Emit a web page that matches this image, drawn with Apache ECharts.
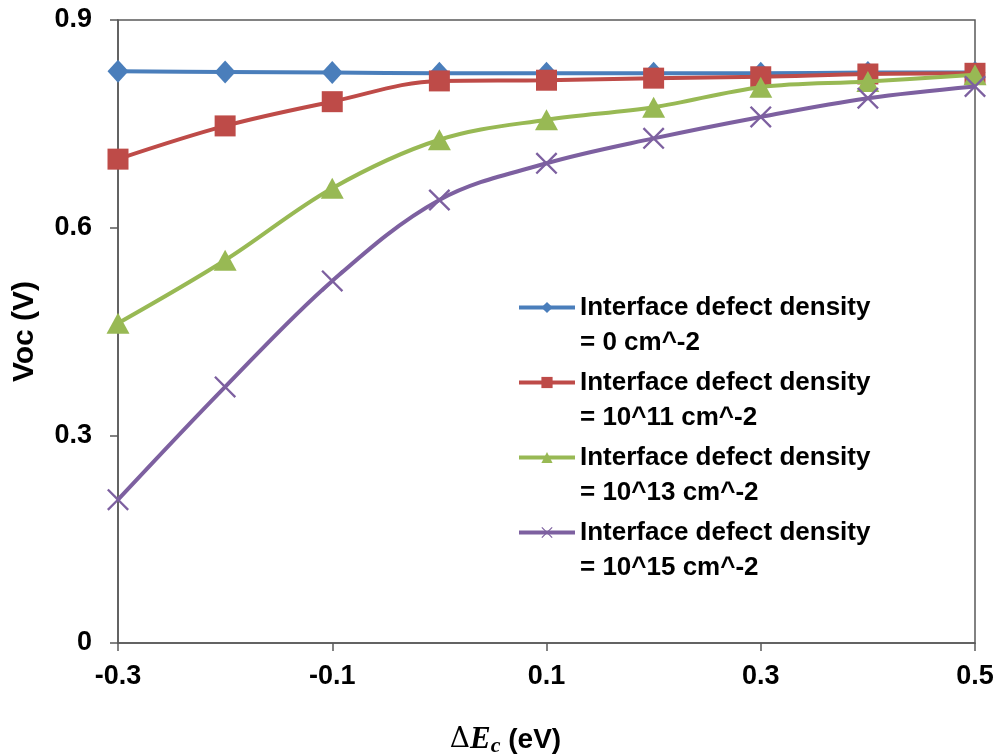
<!DOCTYPE html>
<html>
<head>
<meta charset="utf-8">
<script src="https://cdn.jsdelivr.net/npm/echarts@6/dist/echarts.min.js"></script>
<style>html,body{margin:0;padding:0;background:#fff;}#c{width:1003px;height:754px;}</style>
</head>
<body>
<div id="c"></div>
<script>
var xValues = [-0.3, -0.2, -0.1, 0.0, 0.1, 0.2, 0.3, 0.4, 0.5];
var seriesNames = [
  'Interface defect density\n= 0 cm^-2',
  'Interface defect density\n= 10^11 cm^-2',
  'Interface defect density\n= 10^13 cm^-2',
  'Interface defect density\n= 10^15 cm^-2'
];
var voc0  = [0.826, 0.825, 0.824, 0.823, 0.823, 0.823, 0.823, 0.824, 0.824];
var voc11 = [0.699, 0.747, 0.782, 0.812, 0.813, 0.816, 0.818, 0.822, 0.823];
var voc13 = [0.462, 0.553, 0.657, 0.727, 0.756, 0.774, 0.803, 0.811, 0.821];
var voc15 = [0.207, 0.370, 0.523, 0.640, 0.693, 0.729, 0.760, 0.787, 0.804];
var yTicks = [0, 0.3, 0.6, 0.9];
var xTicks = [-0.3, -0.1, 0.1, 0.3, 0.5];

var colors = ['#4A7EBB', '#BE4B48', '#98B954', '#7D60A0'];
var crossPath = 'path://M0,1.5L1.5,0L10,8.5L18.5,0L20,1.5L11.5,10L20,18.5L18.5,20L10,11.5L1.5,20L0,18.5L8.5,10Z';
var symbols = ['diamond', 'rect', 'triangle', crossPath];
var sizes = [[21, 23], 21, [23, 21], 22];
var datasets = [voc0, voc11, voc13, voc15];
var font = "'Liberation Sans', Arial, sans-serif";

function pairs(ys) { return xValues.map(function (x, i) { return [x, ys[i]]; }); }

var chart = echarts.init(document.getElementById('c'), null, { renderer: 'canvas' });
chart.setOption({
  animation: false,
  backgroundColor: '#fff',
  color: colors,
  grid: { left: 118, right: 28, top: 20, bottom: 111, containLabel: false, outerBoundsMode: 'none',
          show: true, borderColor: '#595959', borderWidth: 1.5 },
  legend: {
    orient: 'vertical', left: 517, top: 255, padding: 0, itemGap: -30,
    itemWidth: 56, itemHeight: 14,
    lineStyle: { width: 4 },
    formatter: function (name) { return '\n' + name; },
    textStyle: { fontFamily: font, fontWeight: 'bold', fontSize: 26, color: '#000', lineHeight: 35 },
    data: seriesNames
  },
  xAxis: {
    type: 'value', min: -0.3, max: 0.5, interval: 0.2,
    axisLine: { show: true, onZero: false, lineStyle: { color: '#595959', width: 1.5 } },
    axisTick: { show: true, inside: false, length: 8, lineStyle: { color: '#595959', width: 1.5 } },
    splitLine: { show: false },
    axisLabel: { margin: 20, fontFamily: font, fontWeight: 'bold', fontSize: 27, color: '#000',
      formatter: function (v) { var r = Math.round(v * 10) / 10; return xTicks.indexOf(r) >= 0 ? r.toFixed(1) : ''; } },
    name: '{d|Δ}{e|E}{c|c}{u| (eV)}', nameLocation: 'middle', nameGap: 80,
    nameTextStyle: {
      padding: [0, 82, 0, 0],
      rich: {
        d: { fontFamily: "'DejaVu Serif', 'Liberation Serif', serif", fontSize: 28, color: '#000' },
        e: { fontFamily: "'Liberation Serif', serif", fontStyle: 'italic', fontWeight: 'bold', fontSize: 31, color: '#000' },
        c: { fontFamily: "'Liberation Serif', serif", fontStyle: 'italic', fontWeight: 'bold', fontSize: 22, color: '#000', padding: [12, 0, 0, 0] },
        u: { fontFamily: font, fontWeight: 'bold', fontSize: 28, color: '#000' }
      }
    }
  },
  yAxis: {
    type: 'value', min: 0, max: 0.9, interval: 0.3,
    axisLine: { show: true, onZero: false, lineStyle: { color: '#595959', width: 1.5 } },
    axisTick: { show: true, inside: false, length: 8, lineStyle: { color: '#595959', width: 1.5 } },
    splitLine: { show: false },
    axisLabel: { margin: 26, fontFamily: font, fontWeight: 'bold', fontSize: 27, color: '#000',
      formatter: function (v) { var r = Math.round(v * 10) / 10; return yTicks.indexOf(r) >= 0 ? String(r) : ''; } },
    name: 'Voc (V)', nameLocation: 'middle', nameGap: 78, nameRotate: 90,
    nameTextStyle: { fontFamily: font, fontWeight: 'bold', fontSize: 30, color: '#000' }
  },
  series: datasets.map(function (d, i) {
    return {
      name: seriesNames[i], type: 'line', data: pairs(d), smooth: 0.35,
      symbol: symbols[i], symbolSize: sizes[i], showSymbol: true,
      lineStyle: { width: 4, color: colors[i] },
      itemStyle: { color: colors[i] },
      z: 2 + i
    };
  })
});
</script>
</body>
</html>
